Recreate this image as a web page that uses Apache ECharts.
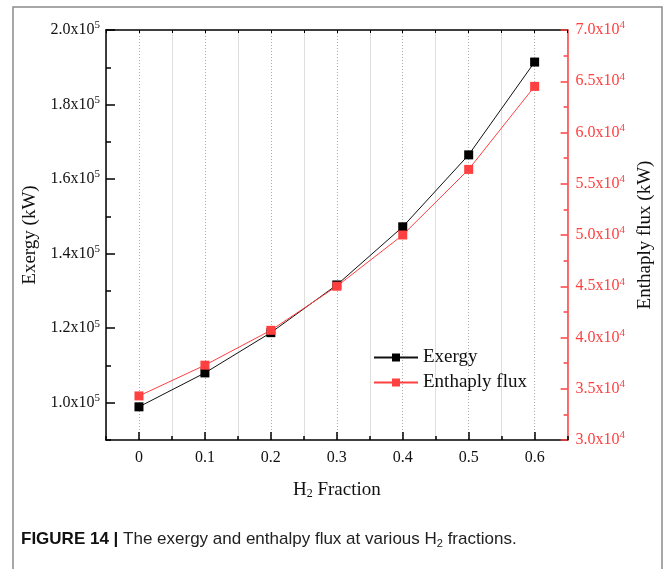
<!DOCTYPE html>
<html>
<head>
<meta charset="utf-8">
<script src="https://cdn.jsdelivr.net/npm/echarts@6/dist/echarts.min.js"></script>
<style>
html,body{margin:0;padding:0;background:#fff;}
#chart{width:663px;height:569px;}
</style>
</head>
<body>
<div id="chart"></div>
<script>
const h2Fraction = [0, 0.1, 0.2, 0.3, 0.4, 0.5, 0.6];
const exergy = [98900, 108000, 118800, 131600, 147200, 166500, 191400];
const enthalpy = [34300, 37300, 40700, 45000, 50000, 56400, 64500];
const xTickLabels = [0, 0.1, 0.2, 0.3, 0.4, 0.5, 0.6];
const leftTickValues = [100000, 120000, 140000, 160000, 180000, 200000];
const rightTickValues = [30000, 35000, 40000, 45000, 50000, 55000, 60000, 65000, 70000];

const SERIF = '"Liberation Serif","Times New Roman",serif';
const SANS = '"Liberation Sans Narrow","Liberation Sans",Arial,sans-serif';
const RED = '#ff4040';

function sciLabel(v, exp) {
  const m = (v / Math.pow(10, exp)).toFixed(1);
  return '{m|' + m + 'x10}{s|' + exp + '}';
}
function richFor(color) {
  return {
    m: {fontFamily: SERIF, fontSize: 16, color: color},
    s: {fontFamily: SERIF, fontSize: 11, color: color, padding: [0, 0, 9, 0]}
  };
}

const chart = echarts.init(document.getElementById('chart'), null, {renderer: 'canvas'});
const grid = {left: 106, right: 90, top: 30, bottom: 129, containLabel: false};

const option = {
  animation: false,
  backgroundColor: '#fff',
  grid: grid,
  legend: {
    left: 368, top: 343, orient: 'vertical',
    itemWidth: 44, itemHeight: 10, itemGap: 6,
    textStyle: {fontFamily: SERIF, fontSize: 19, color: '#111'},
    data: ['Exergy', 'Enthaply flux']
  },
  xAxis: [
    {
      type: 'value', min: -0.05, max: 0.65, interval: 0.05, position: 'bottom',
      axisLine: {show: true, onZero: false, lineStyle: {color: '#000', width: 1.5}},
      axisTick: {show: true, inside: true, length: 8, customValues: xTickLabels, lineStyle: {color: '#000', width: 1.5}},
      axisLabel: {customValues: xTickLabels, margin: 10, fontFamily: SERIF, fontSize: 16, color: '#111',
        formatter: v => String(+(+v).toFixed(2))},
      splitLine: {show: true, lineStyle: {color: '#aaa', type: [1, 2], width: 1}},
      name: '{a|H}{b|2}{a| Fraction}', nameLocation: 'middle', nameGap: 40,
      nameTextStyle: {rich: {a: {fontFamily: SERIF, fontSize: 19, color: '#111'}, b: {fontFamily: SERIF, fontSize: 12, color: '#111', padding: [8, 0, 0, 0]}}}
    },
    {
      type: 'value', min: -0.05, max: 0.65, interval: 0.1, position: 'bottom',
      axisLine: {show: false, onZero: false},
      axisTick: {show: true, inside: true, length: 4, lineStyle: {color: '#000', width: 1.5}},
      axisLabel: {show: false},
      splitLine: {show: true, lineStyle: {color: '#dedede', width: 1}}
    },
    {
      type: 'value', min: -0.05, max: 0.65, interval: 0.05, position: 'top',
      axisLine: {show: true, onZero: false, lineStyle: {color: '#000', width: 1.5}},
      axisTick: {show: true, inside: true, length: 3, lineStyle: {color: '#000', width: 1}},
      axisLabel: {show: false},
      splitLine: {show: false}
    }
  ],
  yAxis: [
    {
      type: 'value', min: 90000, max: 200000, interval: 10000, position: 'left',
      axisLine: {show: true, onZero: false, lineStyle: {color: '#000', width: 1.5}},
      axisTick: {show: true, inside: true, length: 9, customValues: leftTickValues, lineStyle: {color: '#000', width: 1.5}},
      axisLabel: {customValues: leftTickValues, margin: 6, formatter: v => sciLabel(v, 5), rich: richFor('#111')},
      splitLine: {show: false},
      name: 'Exergy (kW)', nameLocation: 'middle', nameGap: 61, nameRotate: 90,
      nameTextStyle: {fontFamily: SERIF, fontSize: 19, color: '#111'}
    },
    {
      type: 'value', min: 90000, max: 200000, interval: 20000, position: 'left', offset: 0,
      axisLine: {show: false, onZero: false},
      axisTick: {show: true, inside: true, length: 5, lineStyle: {color: '#000', width: 1.5}},
      axisLabel: {show: false},
      splitLine: {show: false}
    },
    {
      type: 'value', min: 30000, max: 70000, interval: 5000, position: 'right',
      axisLine: {show: true, onZero: false, lineStyle: {color: RED, width: 1.5}},
      axisTick: {show: true, inside: true, length: 7, lineStyle: {color: RED, width: 1.5}},
      minorTick: {show: true, splitNumber: 2, length: 4, lineStyle: {color: RED, width: 1.5}},
      axisLabel: {margin: 8, formatter: v => sciLabel(v, 4), rich: richFor(RED)},
      splitLine: {show: false},
      name: 'Enthaply flux (kW)', nameLocation: 'middle', nameGap: 61, nameRotate: 90,
      nameTextStyle: {fontFamily: SERIF, fontSize: 19, color: '#111'}
    }
  ],
  series: [
    {
      name: 'Exergy', type: 'line', xAxisIndex: 0, yAxisIndex: 0,
      data: h2Fraction.map((x, i) => [x, exergy[i]]),
      symbol: 'rect', symbolSize: 9,
      lineStyle: {color: '#111', width: 1},
      itemStyle: {color: '#000'}
    },
    {
      name: 'Enthaply flux', type: 'line', xAxisIndex: 0, yAxisIndex: 2,
      data: h2Fraction.map((x, i) => [x, enthalpy[i]]),
      symbol: 'rect', symbolSize: 9,
      lineStyle: {color: RED, width: 1},
      itemStyle: {color: RED}
    }
  ],
  graphic: [
    {type: 'polyline', shape: {points: [[13, 569], [13, 7], [662, 7], [662, 569]]}, style: {stroke: '#8a8a8a', lineWidth: 1.5, fill: null}, silent: true},
    {type: 'text', left: 21, top: 531,
      style: {
        text: '{b|FIGURE 14 |}{n| The exergy and enthalpy flux at various H}{sub|2}{n| fractions.}',
        rich: {
          b: {fontFamily: SANS, fontWeight: 'bold', fontSize: 17, fill: '#111'},
          n: {fontFamily: SANS, fontSize: 17, fill: '#222'},
          sub: {fontFamily: SANS, fontSize: 11, fill: '#222', padding: [8, 0, 0, 0]}
        }
      }
    }
  ]
};
chart.setOption(option);
</script>
</body>
</html>
